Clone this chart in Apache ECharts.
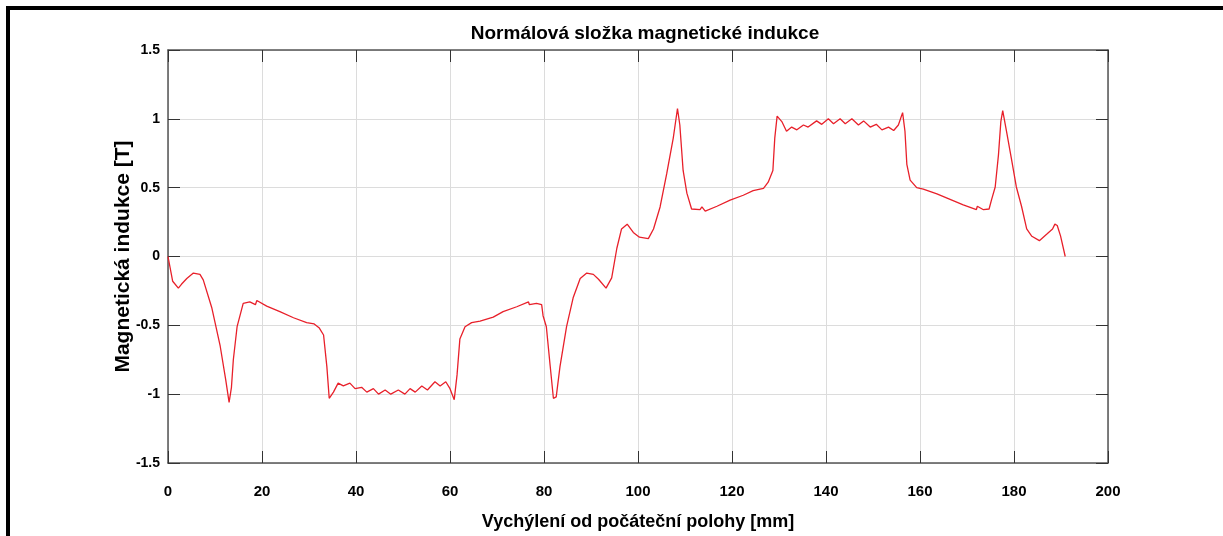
<!DOCTYPE html>
<html>
<head>
<meta charset="utf-8">
<script src="https://cdn.jsdelivr.net/npm/echarts@6/dist/echarts.min.js"></script>
<style>
  html, body { margin: 0; padding: 0; background: #fff; }
  #chart { width: 1223px; height: 536px; position: relative; }
  .frame {
    position: absolute; left: 6px; top: 6px; right: -10px; bottom: -10px;
    border-top: 4px solid #000; border-left: 4px solid #000;
    pointer-events: none;
  }
</style>
</head>
<body>
<div id="chart"></div>
<div class="frame"></div>
<script>
// poloha [mm]
const xs = [
  0, 1.0, 2.2, 2.9, 4.0, 5.4, 6.8, 7.5, 9.3, 11.1, 12.3, 13.0, 13.5, 13.9, 14.7, 16.0,
  17.4, 18.6, 18.9, 21.0, 23.8, 26.7, 29.5, 31.1, 32.2, 33.1, 33.8, 34.3, 35.2, 36.2,
  37.3, 38.7, 39.8, 41.2, 42.3, 43.7, 44.8, 46.2, 47.4, 49.0, 50.4, 51.5, 52.6, 54.0,
  55.2, 56.8, 57.9, 59.1, 60.0, 60.9, 61.5, 62.1, 63.2, 64.6, 66.4, 69.2, 71.3, 74.2,
  76.7, 76.9, 78.4, 79.5, 79.8, 80.5, 81.3, 82.0, 82.6, 83.4, 84.8, 86.2, 87.7, 89.1,
  90.5, 91.6, 93.2, 94.4, 95.5, 96.5, 97.7, 99.0, 100.3, 102.2, 103.3, 104.7, 106.1,
  107.5, 108.4, 108.9, 109.6, 110.4, 111.4, 113.2, 113.6, 114.3, 116.8, 119.6, 122.4,
  124.5, 126.7, 127.7, 128.7, 129.1, 129.6, 130.6, 131.6, 132.7, 133.8, 135.2, 136.2,
  138.0, 139.1, 140.5, 141.6, 143.0, 144.1, 145.5, 146.9, 148.0, 149.4, 150.7, 151.9,
  153.3, 154.4, 155.4, 156.3, 156.8, 157.2, 157.9, 159.3, 160.7, 163.6, 166.4, 169.2,
  172.0, 172.2, 173.5, 174.7, 175.2, 176.0, 176.7, 177.2, 177.6, 178.4, 179.4, 180.5,
  181.6, 182.7, 183.8, 185.4, 187.0, 188.2, 188.7, 189.2, 189.9, 190.9
]
// indukce [T]
const bn = [
  0, -0.18, -0.23, -0.20, -0.16, -0.12, -0.13, -0.17, -0.37, -0.65, -0.90, -1.06, -0.95, -0.75, -0.51, -0.34,
  -0.33, -0.35, -0.32, -0.36, -0.40, -0.445, -0.48, -0.49, -0.52, -0.57, -0.80, -1.03, -0.985, -0.92,
  -0.94, -0.92, -0.96, -0.95, -0.985, -0.96, -1.0, -0.97, -1.0, -0.97, -1.0, -0.96, -0.985, -0.94,
  -0.97, -0.91, -0.94, -0.91, -0.96, -1.04, -0.86, -0.60, -0.51, -0.48, -0.47, -0.44, -0.40, -0.365,
  -0.33, -0.35, -0.34, -0.35, -0.43, -0.51, -0.79, -1.03, -1.02, -0.80, -0.51, -0.30, -0.16, -0.12,
  -0.13, -0.165, -0.23, -0.155, 0.06, 0.20, 0.235, 0.175, 0.14, 0.13, 0.20, 0.36, 0.60,
  0.86, 1.075, 0.955, 0.625, 0.46, 0.345, 0.34, 0.36, 0.33, 0.365, 0.41, 0.445,
  0.478, 0.495, 0.54, 0.625, 0.86, 1.02, 0.98, 0.91, 0.94, 0.92, 0.955, 0.94,
  0.985, 0.96, 1.0, 0.965, 1.0, 0.965, 1.0, 0.955, 0.985, 0.94, 0.96, 0.92,
  0.94, 0.915, 0.955, 1.045, 0.91, 0.67, 0.555, 0.50, 0.49, 0.455, 0.415, 0.375,
  0.34, 0.365, 0.34, 0.345, 0.41, 0.505, 0.74, 0.98, 1.06, 0.91, 0.72, 0.505,
  0.365, 0.20, 0.147, 0.115, 0.163, 0.20, 0.235, 0.225, 0.15, 0
]

const chart = echarts.init(document.getElementById('chart'))

const frameLine = { show: true, onZero: false, lineStyle: { color: '#555', width: 1.5 } }
const tick = { show: true, inside: true, length: 12, lineStyle: { color: '#333', width: 1 } }
const grid = { show: true, lineStyle: { color: '#dcdcdc', width: 1 } }
const font = 'Liberation Sans, Arial, sans-serif'
const narrow = 'Liberation Sans Narrow, Liberation Sans, Arial, sans-serif'

chart.setOption({
  animation: false,
  title: {
    text: 'Normálová složka magnetické indukce',
    left: 640,
    textAlign: 'center',
    top: 19,
    textStyle: { fontFamily: font, fontWeight: 'bold', fontSize: 19, color: '#000' }
  },
  grid: { left: 168, top: 50, right: 115, bottom: 64 },
  xAxis: [{
    type: 'value',
    min: 0,
    max: 200,
    interval: 20,
    name: 'Vychýlení od počáteční polohy [mm]',
    nameLocation: 'middle',
    nameGap: 50,
    nameMoveOverlap: false,
    nameTextStyle: { fontFamily: narrow, fontWeight: 'bold', fontSize: 18, color: '#000' },
    axisLine: frameLine,
    axisTick: tick,
    splitLine: grid,
    axisLabel: { margin: 21, fontFamily: narrow, fontWeight: 'bold', fontSize: 15, color: '#000' }
  }, {
    type: 'value',
    position: 'top',
    min: 0,
    max: 200,
    interval: 20,
    axisLine: frameLine,
    axisTick: tick,
    splitLine: { show: false },
    axisLabel: { show: false }
  }],
  yAxis: [{
    type: 'value',
    min: -1.5,
    max: 1.5,
    interval: 0.5,
    name: 'Magnetická indukce [T]',
    nameLocation: 'middle',
    nameGap: 34,
    nameMoveOverlap: false,
    nameTextStyle: { fontFamily: font, fontWeight: 'bold', fontSize: 21, color: '#000' },
    axisLine: frameLine,
    axisTick: tick,
    splitLine: grid,
    axisLabel: { margin: 8, fontFamily: font, fontWeight: 'bold', fontSize: 14, color: '#000' }
  }, {
    type: 'value',
    position: 'right',
    min: -1.5,
    max: 1.5,
    interval: 0.5,
    axisLine: frameLine,
    axisTick: tick,
    splitLine: { show: false },
    axisLabel: { show: false }
  }],
  series: [{
    type: 'line',
    data: xs.map((x, i) => [x, bn[i]]),
    showSymbol: false,
    smooth: false,
    lineStyle: { color: '#e8202a', width: 1.3 },
    itemStyle: { color: '#e8202a' }
  }]
})
</script>
</body>
</html>
